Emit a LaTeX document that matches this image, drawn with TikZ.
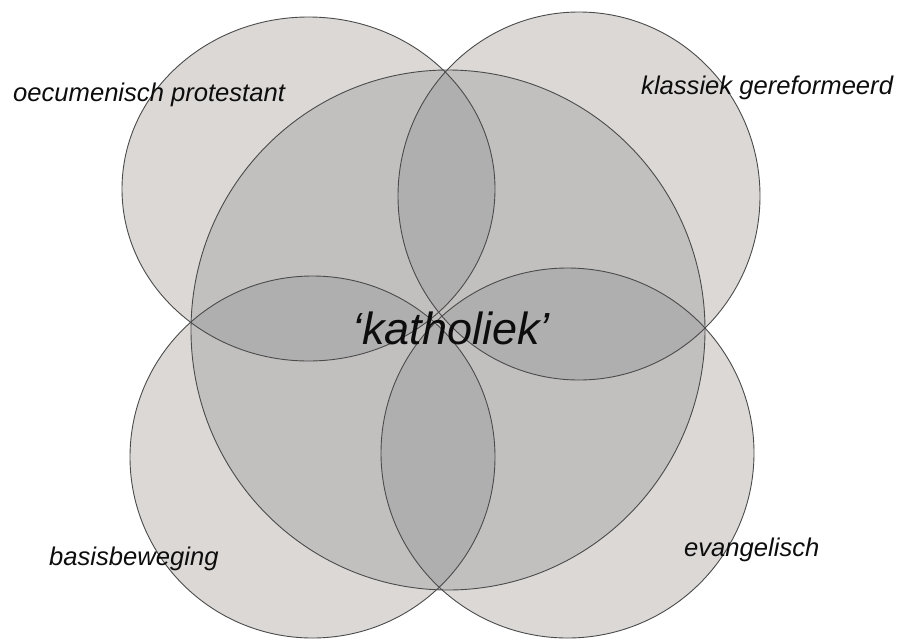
\documentclass[tikz,border=0pt]{standalone}
\usepackage{fontspec}
\setmainfont{Liberation Sans}
\definecolor{lightg}{RGB}{219,216,214}
\definecolor{midg}{RGB}{194,191,191}
\definecolor{darkg}{RGB}{176,175,175}
\definecolor{edge}{RGB}{75,75,75}
\begin{document}
\begin{tikzpicture}[x=1pt,y=-1pt,
  ring/.style={draw=edge,line width=0.9pt},
  lbl/.style={anchor=base west,inner sep=0pt,font=\fontsize{25.6}{30}\selectfont\itshape,text=black!95}]
\useasboundingbox (0,0) rectangle (897,640);
% outer circles, light
\fill[lightg] (308.5,189) ellipse [x radius=186.5pt,y radius=172pt];
\fill[lightg] (579,196) ellipse [x radius=181pt,y radius=184pt];
\fill[lightg] (312.5,457) ellipse [x radius=182.5pt,y radius=181pt];
\fill[lightg] (567.5,453) ellipse [x radius=186.5pt,y radius=185pt];
% central circle
\fill[midg] (448,330) ellipse [x radius=257pt,y radius=260pt];
% lenses
\begin{scope}
  \clip (308.5,189) ellipse [x radius=186.5pt,y radius=172pt];
  \fill[darkg] (579,196) ellipse [x radius=181pt,y radius=184pt];
  \fill[darkg] (312.5,457) ellipse [x radius=182.5pt,y radius=181pt];
\end{scope}
\begin{scope}
  \clip (567.5,453) ellipse [x radius=186.5pt,y radius=185pt];
  \fill[darkg] (579,196) ellipse [x radius=181pt,y radius=184pt];
  \fill[darkg] (312.5,457) ellipse [x radius=182.5pt,y radius=181pt];
\end{scope}
% outlines
\draw[ring] (308.5,189) ellipse [x radius=186.5pt,y radius=172pt];
\draw[ring] (579,196) ellipse [x radius=181pt,y radius=184pt];
\draw[ring] (312.5,457) ellipse [x radius=182.5pt,y radius=181pt];
\draw[ring] (567.5,453) ellipse [x radius=186.5pt,y radius=185pt];
\draw[ring] (448,330) ellipse [x radius=257pt,y radius=260pt];
% labels
\node[lbl] (oec) at (13,101) {oecumenisch protestant};
\node[lbl] (kla) at (641,94) {klassiek gereformeerd};
\node[lbl] (bas) at (49,565) {basisbeweging};
\node[lbl] (eva) at (684,556) {evangelisch};
\node[lbl,font=\fontsize{45}{50}\selectfont\itshape] (kat) at (352,344) {‘katholiek’};
\end{tikzpicture}
\end{document}
